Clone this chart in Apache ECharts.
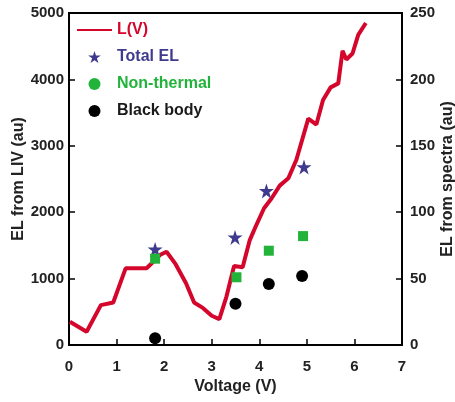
<!DOCTYPE html>
<html>
<head>
<meta charset="utf-8">
<script src="https://cdn.jsdelivr.net/npm/echarts@6/dist/echarts.min.js"></script>
<style>
html,body{margin:0;padding:0;background:#fff;}
#c{width:455px;height:402px;}
</style>
</head>
<body>
<div id="c"></div>
<script>
// L(V) curve: voltage (V) and EL from LIV (au)
var lvVoltage = [0.02,0.37,0.67,0.93,1.19,1.63,1.81,1.91,2.05,2.23,2.46,2.63,2.82,3.0,3.16,3.31,3.47,3.65,3.80,3.94,4.10,4.26,4.43,4.61,4.78,5.03,5.20,5.34,5.50,5.66,5.75,5.83,5.96,6.08,6.24];
var lvEL = [350,200,600,640,1155,1155,1280,1355,1405,1230,930,640,555,440,390,730,1190,1170,1580,1810,2060,2210,2400,2510,2790,3410,3320,3690,3880,3940,4430,4300,4390,4670,4850];

// spectra points (right axis)
var totalV = [1.81,3.49,4.15,4.94];
var totalEL = [72,81,116,134];
var nonThermalV = [1.81,3.52,4.20,4.92];
var nonThermalEL = [65,51,71,82];
var blackBodyV = [1.81,3.50,4.20,4.90];
var blackBodyEL = [5,31,46,52];

var xTicks = [0,1,2,3,4,5,6,7];
var leftTicks = [0,1000,2000,3000,4000,5000];
var rightTicks = [0,50,100,150,200,250];

function pairs(xs, ys){ return xs.map(function(x,i){ return [x, ys[i]]; }); }

var starPath = 'path://M50,0 L61.8,35.5 L100,35.5 L69.1,57.5 L80.9,94.5 L50,72 L19.1,94.5 L30.9,57.5 L0,35.5 L38.2,35.5 Z';
var linePath = 'path://M0,0 H100 V6 H0 Z';
var font = 'Liberation Sans, Arial, sans-serif';
var red = '#d4062c', blue = '#3f3a8e', green = '#22b33a', black = '#000000';

var chart = echarts.init(document.getElementById('c'), null, {renderer:'canvas'});
var axisLbl = {color:'#222', fontSize:15, fontWeight:'bold', fontFamily:font, formatter:function(v){return String(v);}};
var nameSt = {color:'#222', fontSize:16, fontWeight:'bold', fontFamily:font};
chart.setOption({
  animation:false,
  backgroundColor:'#fff',
  grid:{left:69, right:53, top:13, bottom:57, outerBoundsMode:'none', containLabel:false, show:true, borderColor:'#000', borderWidth:2, backgroundColor:'transparent'},
  legend:{
    orient:'vertical', left:77, top:22, padding:0, itemWidth:35, itemHeight:12, itemGap:11,
    textStyle:{fontSize:16, fontWeight:'bold', fontFamily:font},
    data:[
      {name:'L(V)', icon:linePath, itemStyle:{color:red}, textStyle:{color:red}},
      {name:'Total EL', icon:starPath, textStyle:{color:blue}},
      {name:'Non-thermal', icon:'circle', textStyle:{color:green}},
      {name:'Black body', icon:'circle', textStyle:{color:'#1a1a1a'}}
    ]
  },
  xAxis:{
    type:'value', min:xTicks[0], max:xTicks[xTicks.length-1], interval:1,
    name:'Voltage (V)', nameLocation:'middle', nameGap:34, nameMoveOverlap:false, nameTextStyle:nameSt,
    axisLine:{show:true, lineStyle:{color:'#000', width:2}},
    axisTick:{show:true, inside:true, length:6, lineStyle:{color:'#000', width:1.5}},
    axisLabel:Object.assign({margin:14}, axisLbl),
    splitLine:{show:false}
  },
  yAxis:[{
    type:'value', min:leftTicks[0], max:leftTicks[leftTicks.length-1], interval:1000,
    name:'EL from LIV (au)', nameLocation:'middle', nameGap:42, nameMoveOverlap:false, nameTextStyle:nameSt,
    axisLine:{show:true, lineStyle:{color:'#000', width:2}},
    axisTick:{show:true, inside:true, length:6, lineStyle:{color:'#000', width:1.5}},
    axisLabel:Object.assign({margin:5}, axisLbl),
    splitLine:{show:false}
  },{
    type:'value', position:'right', min:rightTicks[0], max:rightTicks[rightTicks.length-1], interval:50,
    name:'EL from spectra (au)', nameLocation:'middle', nameGap:38, nameRotate:90, nameMoveOverlap:false, nameTextStyle:nameSt,
    axisLine:{show:true, lineStyle:{color:'#000', width:2}},
    axisTick:{show:true, inside:true, length:6, lineStyle:{color:'#000', width:1.5}},
    axisLabel:Object.assign({margin:8}, axisLbl),
    splitLine:{show:false}
  }],
  series:[
    {name:'L(V)', type:'line', yAxisIndex:0, data:pairs(lvVoltage, lvEL), showSymbol:false, symbol:'none',
     lineStyle:{color:red, width:4}, itemStyle:{color:red}, z:2},
    {name:'Total EL', type:'scatter', yAxisIndex:1, data:pairs(totalV, totalEL), symbol:starPath, symbolSize:15,
     itemStyle:{color:blue, opacity:1}, z:3},
    {name:'Non-thermal', type:'scatter', yAxisIndex:1, data:pairs(nonThermalV, nonThermalEL), symbol:'rect', symbolSize:10,
     itemStyle:{color:green, opacity:1}, z:3},
    {name:'Black body', type:'scatter', yAxisIndex:1, data:pairs(blackBodyV, blackBodyEL), symbol:'circle', symbolSize:12,
     itemStyle:{color:black, opacity:1}, z:3}
  ]
});
</script>
</body>
</html>
